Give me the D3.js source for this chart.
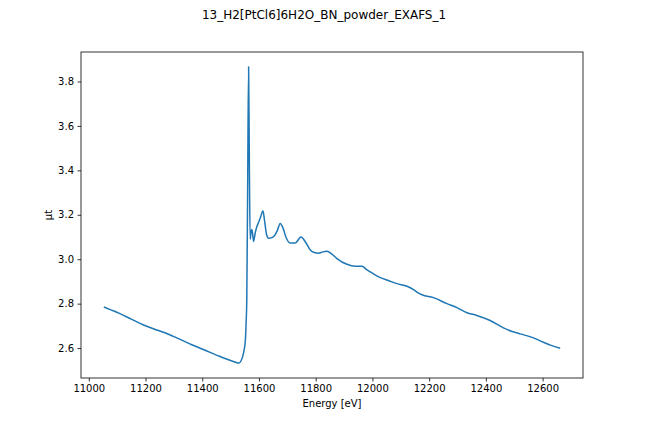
<!DOCTYPE html>
<html lang="en">
<head>
  <meta charset="UTF-8">
  <title>EXAFS</title>
  <style>
    html, body { margin: 0; padding: 0; background: #fff; }
    #main { width: 648px; height: 432px; }
    text { font-family: "DejaVu Sans", sans-serif; fill: #000; }
  </style>
</head>
<body>
  <div id="main"></div>
  <script src="https://d3js.org/d3.v7.min.js"></script>
  <script>
    // data
    const energy = [
      11053, 11080, 11108, 11150, 11193, 11230, 11266, 11310, 11363, 11410,
      11461, 11495, 11520, 11528, 11537, 11546, 11552, 11555, 11557, 11560,
      11563.5, 11566, 11569, 11572, 11575.5, 11581, 11587, 11593, 11600, 11607,
      11614, 11620, 11627, 11634, 11645, 11652, 11665, 11675, 11685, 11695,
      11710, 11728, 11748, 11765, 11781, 11795, 11810, 11825, 11840, 11858,
      11875, 11910, 11940, 11963, 11981, 12000, 12028, 12060, 12087, 12122,
      12145, 12160, 12175, 12215, 12263, 12298, 12333, 12368, 12415, 12462,
      12490, 12521, 12568, 12603, 12630, 12662
    ]
    const mu = [
      2.785, 2.771, 2.756, 2.730, 2.704, 2.686, 2.670, 2.646, 2.615, 2.590,
      2.563, 2.546, 2.535, 2.532, 2.543, 2.581, 2.634, 2.724, 2.814, 3.300,
      3.866, 3.450, 3.090, 3.120, 3.134, 3.080, 3.120, 3.148, 3.170, 3.195,
      3.218, 3.170, 3.110, 3.094, 3.097, 3.102, 3.130, 3.161, 3.140, 3.100,
      3.073, 3.073, 3.100, 3.075, 3.042, 3.030, 3.027, 3.033, 3.036, 3.022,
      3.003, 2.977, 2.968, 2.968, 2.952, 2.937, 2.917, 2.902, 2.890, 2.878,
      2.863, 2.850, 2.840, 2.827, 2.800, 2.782, 2.759, 2.747, 2.724, 2.691,
      2.676, 2.664, 2.646, 2.626, 2.612, 2.599
    ]
    const xTicks = [11000, 11200, 11400, 11600, 11800, 12000, 12200, 12400, 12600]
    const yTicks = [2.6, 2.8, 3.0, 3.2, 3.4, 3.6, 3.8]
    const title = '13_H2[PtCl6]6H2O_BN_powder_EXAFS_1'

    const [width, height] = [648, 432]
    const margin = { left: 81, right: 65, top: 52, bottom: 54 }

    const svg = d3.select('#main').append('svg')
      .attr('width', width)
      .attr('height', height)
      .attr('viewBox', `0 0 ${width} ${height}`)

    // matplotlib style 5% padding
    const xExt = d3.extent(energy), yExt = d3.extent(mu)
    const xPad = (xExt[1] - xExt[0]) * 0.05, yPad = (yExt[1] - yExt[0]) * 0.05

    const xScale = d3.scaleLinear()
      .domain([xExt[0] - xPad, xExt[1] + xPad])
      .range([margin.left, width - margin.right])
    const yScale = d3.scaleLinear()
      .domain([yExt[0] - yPad, yExt[1] + yPad])
      .range([height - margin.bottom, margin.top])

    const pts = energy.map((e, i) => [e, mu[i]])

    const line = d3.line()
      .x(d => xScale(d[0]))
      .y(d => yScale(d[1]))
      .curve(d3.curveMonotoneX)

    svg.append('path')
      .datum(pts)
      .attr('d', line)
      .attr('fill', 'none')
      .attr('stroke', '#1f77b4')
      .attr('stroke-width', 1.5)
      .attr('stroke-linejoin', 'round')

    // axes
    const xAxis = svg.append('g')
      .attr('transform', `translate(0 ${height - margin.bottom})`)
      .call(d3.axisBottom(xScale).tickValues(xTicks).tickFormat(d3.format('d'))
        .tickSize(3.5).tickPadding(3.5))
    const yAxis = svg.append('g')
      .attr('transform', `translate(${margin.left} 0)`)
      .call(d3.axisLeft(yScale).tickValues(yTicks).tickFormat(d3.format('.1f'))
        .tickSize(3.5).tickPadding(3.5))

    ;[xAxis, yAxis].forEach(g => {
      g.select('.domain').remove()
      g.selectAll('line').attr('stroke', '#000').attr('stroke-width', 0.8)
      g.selectAll('text').style('font-size', '10px').style('font-family', '"DejaVu Sans", sans-serif')
    })

    // frame
    svg.append('rect')
      .attr('x', margin.left)
      .attr('y', margin.top)
      .attr('width', width - margin.left - margin.right)
      .attr('height', height - margin.top - margin.bottom)
      .attr('fill', 'none')
      .attr('stroke', '#000')
      .attr('stroke-width', 0.8)

    // labels
    svg.append('text')
      .attr('x', (margin.left + width - margin.right) / 2)
      .attr('y', 407)
      .attr('text-anchor', 'middle')
      .style('font-size', '10px')
      .text('Energy [eV]')

    svg.append('text')
      .attr('transform', `translate(52 ${(margin.top + height - margin.bottom) / 2}) rotate(-90)`)
      .attr('text-anchor', 'middle')
      .style('font-size', '10px')
      .text('μt')

    svg.append('text')
      .attr('x', width / 2)
      .attr('y', 19)
      .attr('text-anchor', 'middle')
      .style('font-size', '12px')
      .text(title)
  </script>
</body>
</html>
